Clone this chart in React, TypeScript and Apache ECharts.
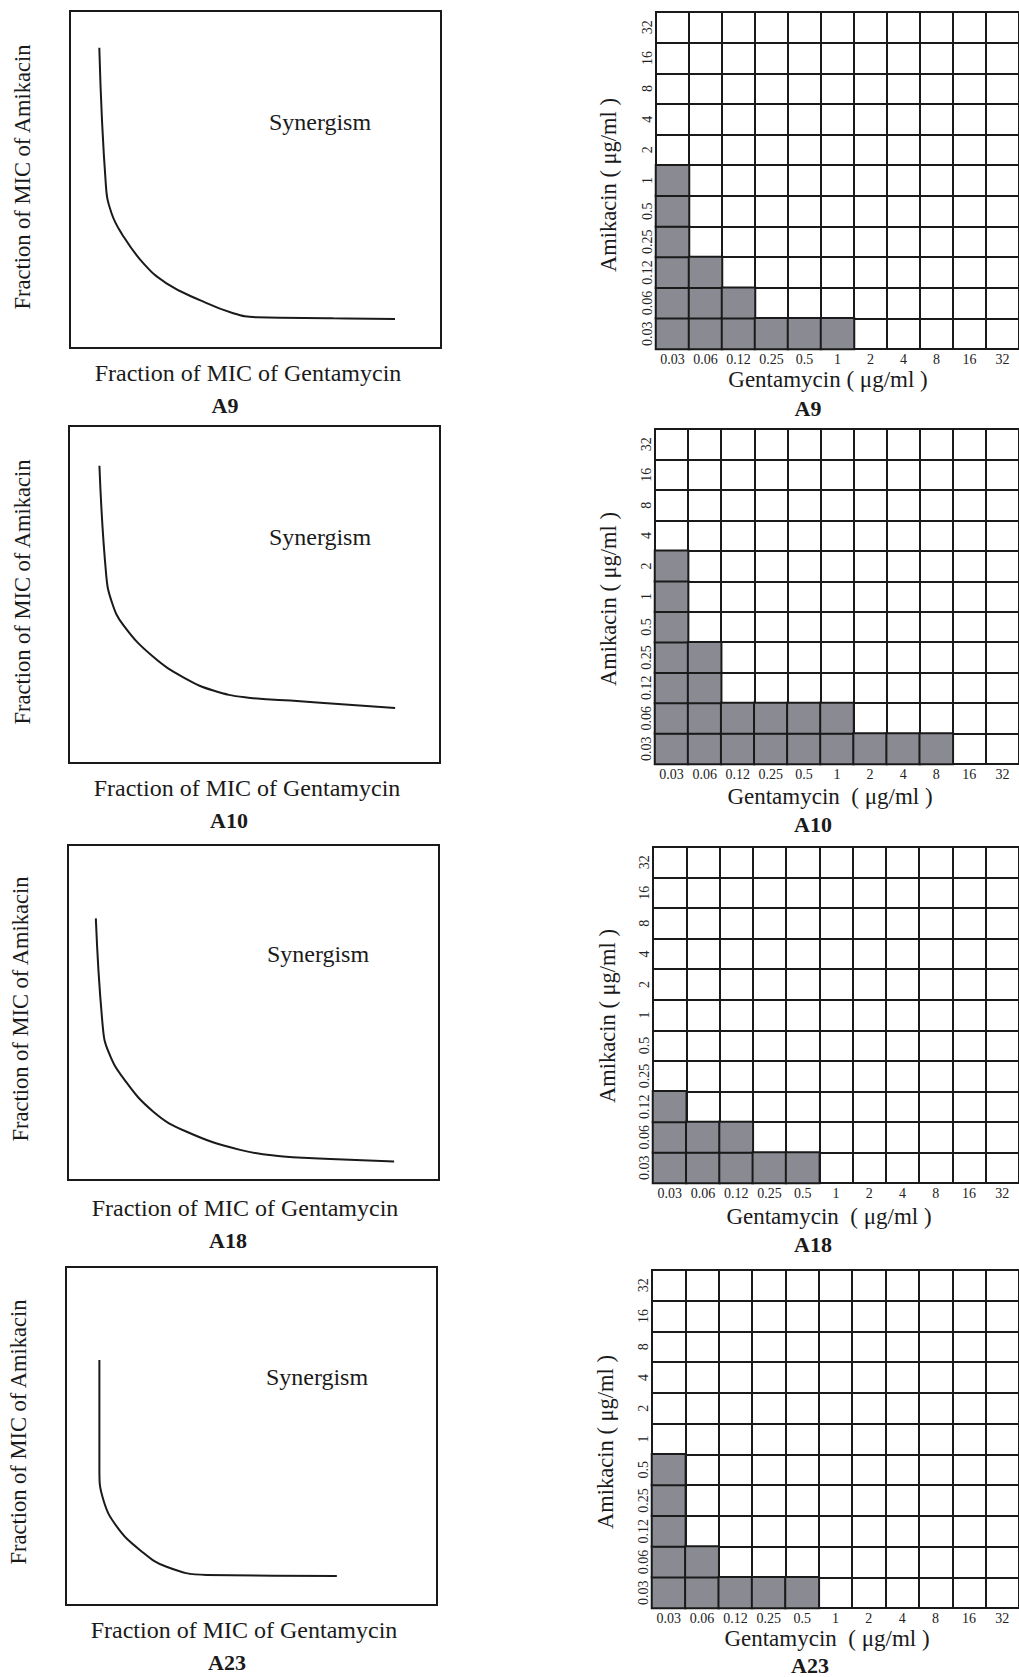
import React, { useEffect, useRef } from "react";
import * as echarts from "echarts";

// ---------- DATA ----------
const gentamycinLevels = ["0.03", "0.06", "0.12", "0.25", "0.5", "1", "2", "4", "8", "16", "32"];
const amikacinLevels = ["0.03", "0.06", "0.12", "0.25", "0.5", "1", "2", "4", "8", "16", "32"];

// Highest Amikacin concentration (µg/ml) shaded in each Gentamycin column (null = no shaded cell)
const a9Shaded = ["1", "0.12", "0.06", "0.03", "0.03", "0.03", null, null, null, null, null];
const a10Shaded = ["2", "0.25", "0.06", "0.06", "0.06", "0.06", "0.03", "0.03", "0.03", null, null];
const a18Shaded = ["0.12", "0.06", "0.06", "0.03", "0.03", null, null, null, null, null, null];
const a23Shaded = ["0.5", "0.06", "0.03", "0.03", "0.03", null, null, null, null, null, null];

// Isobologram curves: [fraction of MIC of Gentamycin, fraction of MIC of Amikacin] (0-100 scale)
const a9Curve = [[7.9, 89.1], [9.7, 47.9], [11.2, 40.0], [13.9, 34.0], [19.8, 25.1], [26.0, 19.2], [35.0, 14.2], [44.0, 10.3], [50.3, 9.1], [71.0, 8.8], [87.6, 8.6]];
const a10Curve = [[8.2, 88.2], [10.0, 56.1], [11.5, 47.9], [14.6, 41.0], [22.7, 31.5], [31.7, 24.9], [38.9, 21.5], [47.4, 19.5], [62.3, 18.3], [87.9, 16.3]];
const a18Curve = [[7.5, 78.1], [9.4, 45.5], [10.9, 38.3], [14.9, 30.4], [23.0, 20.4], [32.0, 14.4], [46.4, 9.0], [58.0, 7.0], [66.1, 6.5], [87.9, 5.5]];
const a23Curve = [[9.0, 72.5], [9.0, 39.9], [10.1, 31.0], [13.7, 23.2], [19.9, 16.3], [27.1, 11.3], [37.9, 8.9], [73.0, 8.6]];

const isolateNames = ["A9", "A10", "A18", "A23"];
const synergyLabel = "Synergism";
const leftXName = "Fraction of MIC of Gentamycin";
const leftYName = "Fraction of MIC of Amikacin";
const rightXNames = ["Gentamycin ( μg/ml )", "Gentamycin  ( μg/ml )", "Gentamycin  ( μg/ml )", "Gentamycin  ( μg/ml )"];
const rightYName = "Amikacin ( μg/ml )";

// ---------- LAYOUT ----------
const leftGrids = [
  { left: 70, top: 11, width: 371, height: 337 },
  { left: 69, top: 426, width: 371, height: 337 },
  { left: 68, top: 845, width: 371, height: 335 },
  { left: 66, top: 1267, width: 371, height: 338 },
];
const rightGrids = [
  { left: 656, top: 12, width: 372, height: 337 },
  { left: 655, top: 429, width: 372, height: 335 },
  { left: 653, top: 847, width: 372, height: 336 },
  { left: 652, top: 1270, width: 372, height: 338 },
];
const leftYLabelPos = [[22, 177], [22, 592], [20, 1009], [18, 1432]];
const leftXLabelPos = [[248, 373], [247, 788], [245, 1208], [244, 1630]];
const synergyPos = [[320, 122], [320, 537], [318, 954], [317, 1377]];
const leftTagPos = [[225, 405], [229, 820], [228, 1240], [227, 1662]];
const rightXNamePos = [[828, 379], [830, 796], [829, 1216], [827, 1638]];
const rightYNamePos = [[608, 185], [608, 599], [607, 1016], [605, 1442]];
const rightTagPos = [[808, 408], [813, 824], [813, 1244], [810, 1665]];

const FONT = "'Liberation Serif', 'Times New Roman', serif";
const INK = "#1a1a1a";
const SHADE = "#8a8a92";

function buildCells(shaded: (string | null)[]) {
  const cells: number[][] = [];
  shaded.forEach((top, xi) => {
    if (top === null) return;
    const topIdx = amikacinLevels.indexOf(top);
    for (let yi = 0; yi <= topIdx; yi++) cells.push([xi, yi, 1]);
  });
  return cells;
}

export default function App() {
  const ref = useRef<HTMLDivElement>(null);

  useEffect(() => {
    if (!ref.current) return;
    const chart = echarts.init(ref.current, undefined, { renderer: "svg" });
    const curves = [a9Curve, a10Curve, a18Curve, a23Curve];
    const shadedSets = [a9Shaded, a10Shaded, a18Shaded, a23Shaded];

    const grid: any[] = [];
    const xAxis: any[] = [];
    const yAxis: any[] = [];
    const series: any[] = [];
    const graphic: any[] = [];
    const heatIdx: number[] = [];

    const txt = (x: number, y: number, text: string, size: number, opts: any = {}) => ({
      type: "text",
      x,
      y,
      rotation: opts.rotation || 0,
      style: {
        text,
        fontSize: size,
        fontFamily: FONT,
        fontWeight: opts.bold ? "bold" : "normal",
        fill: INK,
        align: "center",
        verticalAlign: "middle",
      },
    });

    for (let i = 0; i < 4; i++) {
      // Left isobologram panel
      const lg = grid.length;
      grid.push({ ...leftGrids[i], show: true, borderColor: INK, borderWidth: 2, backgroundColor: "transparent" });
      xAxis.push({ type: "value", gridIndex: lg, min: 0, max: 100, show: false });
      yAxis.push({ type: "value", gridIndex: lg, min: 0, max: 100, show: false });
      series.push({
        type: "line",
        xAxisIndex: lg,
        yAxisIndex: lg,
        data: curves[i],
        smooth: 0.45,
        showSymbol: false,
        lineStyle: { color: INK, width: 2 },
        silent: true,
      });

      // Right checkerboard panel
      const rg = grid.length;
      grid.push({ ...rightGrids[i], show: true, borderColor: INK, borderWidth: 2, backgroundColor: "transparent" });
      xAxis.push({
        type: "category",
        gridIndex: rg,
        data: gentamycinLevels,
        boundaryGap: true,
        axisLine: { show: true, lineStyle: { color: INK, width: 2 } },
        axisTick: { show: false },
        splitLine: { show: true, lineStyle: { color: INK, width: 2 } },
        axisLabel: { interval: 0, margin: 3, fontSize: 14, fontFamily: FONT, color: "#222" },
      });
      yAxis.push({
        type: "category",
        gridIndex: rg,
        data: amikacinLevels,
        boundaryGap: true,
        axisLine: { show: true, lineStyle: { color: INK, width: 2 } },
        axisTick: { show: false },
        splitLine: { show: true, lineStyle: { color: INK, width: 2 } },
        axisLabel: { interval: 0, margin: 2, rotate: 90, fontSize: 14, fontFamily: FONT, color: "#222" },
      });
      heatIdx.push(series.length);
      series.push({
        type: "heatmap",
        xAxisIndex: rg,
        yAxisIndex: rg,
        data: buildCells(shadedSets[i]),
        itemStyle: { borderColor: INK, borderWidth: 2 },
        silent: true,
      });

      // Texts
      graphic.push(txt(leftYLabelPos[i][0], leftYLabelPos[i][1], leftYName, 22.5, { rotation: Math.PI / 2 }));
      graphic.push(txt(leftXLabelPos[i][0], leftXLabelPos[i][1], leftXName, 24));
      graphic.push(txt(synergyPos[i][0], synergyPos[i][1], synergyLabel, 24));
      graphic.push(txt(leftTagPos[i][0], leftTagPos[i][1], isolateNames[i], 22, { bold: true }));
      graphic.push(txt(rightXNamePos[i][0], rightXNamePos[i][1], rightXNames[i], 23));
      graphic.push(txt(rightYNamePos[i][0], rightYNamePos[i][1], rightYName, 22.5, { rotation: Math.PI / 2 }));
      graphic.push(txt(rightTagPos[i][0], rightTagPos[i][1], isolateNames[i], 22, { bold: true }));
    }

    chart.setOption({
      animation: false,
      backgroundColor: "#ffffff",
      visualMap: {
        type: "continuous",
        show: false,
        min: 0,
        max: 1,
        seriesIndex: heatIdx,
        inRange: { color: [SHADE, SHADE] },
      },
      grid,
      xAxis,
      yAxis,
      series,
      graphic,
    });

    return () => chart.dispose();
  }, []);

  return (
    <div
      ref={ref}
      style={{ position: "absolute", left: 0, top: 0, width: 1019, height: 1677 }}
    />
  );
}
